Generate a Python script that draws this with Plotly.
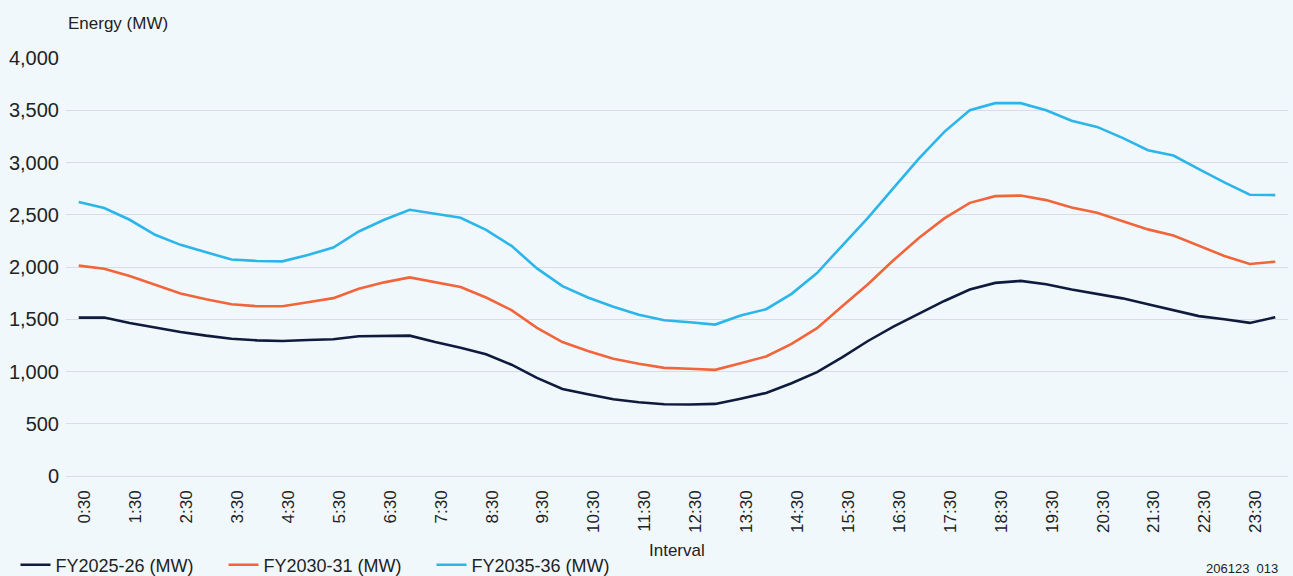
import plotly.graph_objects as go

# Half-hourly intervals 0:30 .. 24:00
intervals = ["0:30", "1:00", "1:30", "2:00", "2:30", "3:00", "3:30", "4:00",
             "4:30", "5:00", "5:30", "6:00", "6:30", "7:00", "7:30", "8:00",
             "8:30", "9:00", "9:30", "10:00", "10:30", "11:00", "11:30", "12:00",
             "12:30", "13:00", "13:30", "14:00", "14:30", "15:00", "15:30", "16:00",
             "16:30", "17:00", "17:30", "18:00", "18:30", "19:00", "19:30", "20:00",
             "20:30", "21:00", "21:30", "22:00", "22:30", "23:00", "23:30", "24:00"]

fy2025 = [1516, 1516, 1465, 1420, 1378, 1343, 1314, 1298, 1292, 1301, 1308, 1337,
          1337, 1343, 1282, 1228, 1165, 1065, 939, 833, 782, 734, 705, 686,
          684, 690, 740, 795, 888, 994, 1137, 1292, 1430, 1550, 1675, 1784,
          1848, 1867, 1835, 1785, 1745, 1700, 1643, 1587, 1530, 1500, 1465, 1519]

fy2030 = [2013, 1984, 1913, 1827, 1747, 1692, 1644, 1625, 1625, 1663, 1702, 1792,
          1853, 1901, 1856, 1808, 1708, 1587, 1417, 1282, 1196, 1122, 1074, 1035,
          1026, 1016, 1080, 1144, 1265, 1415, 1626, 1835, 2064, 2278, 2465, 2614,
          2678, 2684, 2640, 2570, 2519, 2439, 2360, 2302, 2207, 2106, 2029, 2051]

fy2035 = [2622, 2564, 2452, 2308, 2212, 2138, 2071, 2058, 2054, 2115, 2186, 2340,
          2452, 2548, 2510, 2471, 2356, 2202, 1987, 1817, 1708, 1619, 1542, 1490,
          1471, 1449, 1535, 1596, 1743, 1942, 2208, 2470, 2754, 3038, 3293, 3500,
          3568, 3568, 3500, 3399, 3341, 3236, 3118, 3067, 2936, 2809, 2691, 2688]

series_names = ["FY2025-26 (MW)", "FY2030-31 (MW)", "FY2035-36 (MW)"]
series_colors = ["#0f1b3d", "#f2643a", "#2cb5ea"]

tick_labels = intervals[::2]
y_ticks = list(range(0, 4001, 500))

FONT = "Liberation Sans, Arial, sans-serif"
TEXT = "#222222"
BG = "#f1f8fc"
GRID = "#d9dce3"

W, H = 1293, 576
M_L, M_R, M_T, M_B = 66, 5, 58, 100
plot_h = H - M_T - M_B
plot_w = W - M_L - M_R


def paper_y(px):
    """Convert a pixel row (from the top of the figure) to paper y."""
    return (H - M_B - px) / plot_h


def paper_x(px):
    """Convert a pixel column (from the left of the figure) to paper x."""
    return (px - M_L) / plot_w


fig = go.Figure()
for name, vals, col in zip(series_names, [fy2025, fy2030, fy2035], series_colors):
    fig.add_trace(go.Scatter(x=intervals, y=vals, name=name, mode="lines",
                             line=dict(color=col, width=2.6)))

fig.update_layout(
    width=W, height=H,
    margin=dict(l=M_L, r=M_R, t=M_T, b=M_B, autoexpand=False),
    paper_bgcolor=BG, plot_bgcolor=BG,
    font=dict(family=FONT, color=TEXT, size=17),
    showlegend=True,
    legend=dict(orientation="h", xref="paper", yref="paper",
                x=paper_x(15.5), y=paper_y(565), xanchor="left", yanchor="middle",
                font=dict(size=18, color=TEXT), bgcolor="rgba(0,0,0,0)",
                entrywidth=163, entrywidthmode="pixels", itemwidth=30),
    xaxis=dict(type="category", range=[-0.5, 47.5], tickmode="array",
               tickvals=tick_labels, ticktext=tick_labels, tickangle=-90,
               tickfont=dict(size=17, color=TEXT), showgrid=False,
               showline=False, zeroline=False, ticks="", ticklabelshift=6,
               ticklabelstandoff=10, automargin=False),
    yaxis=dict(range=[0, 4000], tickmode="array", tickvals=y_ticks,
               tickformat=",d", tickfont=dict(size=20, color=TEXT),
               showgrid=True, gridcolor=GRID, gridwidth=1,
               zeroline=True, zerolinecolor=GRID, zerolinewidth=1,
               showline=False, ticks="", ticklabelstandoff=6, automargin=False),
    annotations=[
        dict(text="Energy (MW)", xref="paper", yref="paper",
             x=0, y=paper_y(24),
             xanchor="left", yanchor="middle", showarrow=False,
             font=dict(size=17, color=TEXT)),
        dict(text="Interval", xref="paper", yref="paper",
             x=0.5, y=paper_y(550),
             xanchor="center", yanchor="middle", showarrow=False,
             font=dict(size=17, color=TEXT)),
        dict(text="206123  013", xref="paper", yref="paper",
             x=paper_x(1280), y=paper_y(568),
             xanchor="right", yanchor="middle", showarrow=False,
             font=dict(size=13, color=TEXT,
                       family="Liberation Sans Narrow, Arial Narrow, sans-serif")),
    ],
)

fig.write_html("out.html")
